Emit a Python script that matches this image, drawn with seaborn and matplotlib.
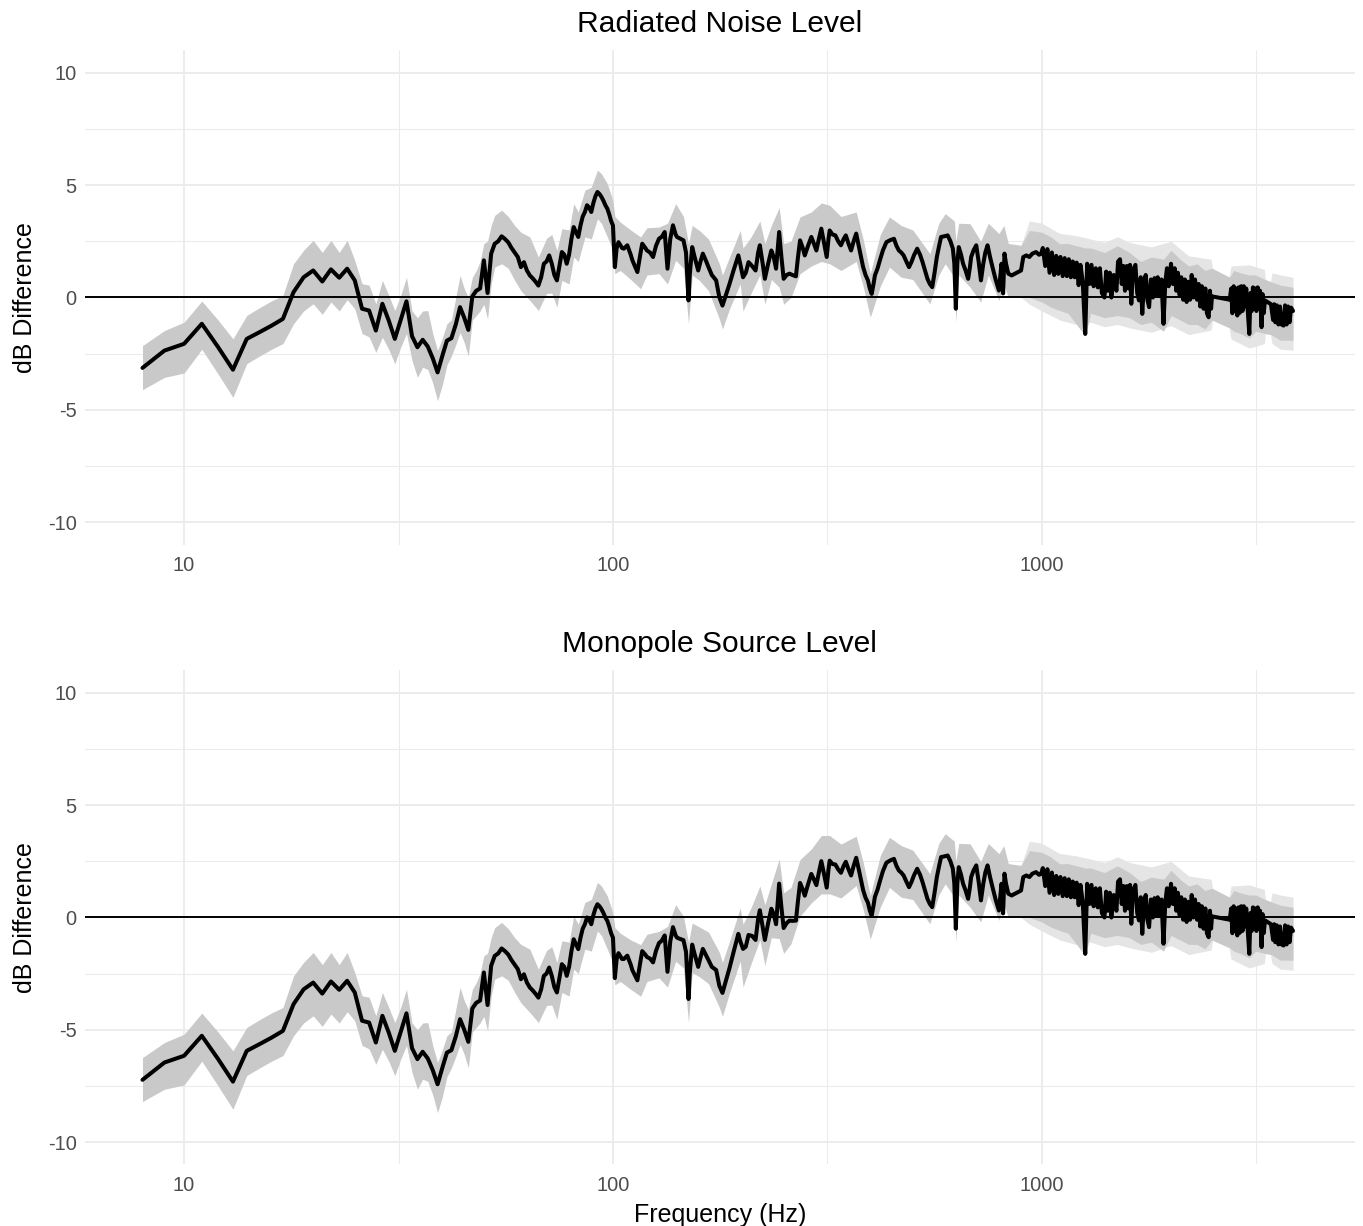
import numpy as np
import pandas as pd
import matplotlib
matplotlib.use("Agg")
import matplotlib.pyplot as plt
import seaborn as sns

# ---------------- data ----------------
# low/mid frequencies where the two panels differ
lf_freq = [8, 9, 10, 11, 12, 13, 14, 15, 16, 17,
           18, 19, 20, 21, 22, 23, 24, 25, 26, 27,
           28, 29, 30, 31, 32, 33, 34, 35, 36, 37,
           38, 39, 40, 41, 42, 43, 44, 45, 46, 47,
           48, 49, 50, 51, 52, 53, 54, 55, 56, 57,
           58, 59, 60, 61, 62, 63, 64, 65, 66, 67,
           68, 69, 70, 71, 72, 73, 74, 75, 76, 77,
           78, 79, 80, 81, 82, 83, 84, 85, 86, 87,
           88, 89, 90, 91, 92, 93, 94, 95, 96, 97,
           98, 99, 100,
           101, 102, 103, 105, 106, 108, 110, 111, 113, 114,
           116, 117, 119, 120, 122, 124, 126, 128, 130, 132,
           134, 136, 138, 140, 141, 144, 146, 148, 150, 151,
           153, 155, 158, 160, 162, 165, 167, 170, 174, 177,
           180, 184, 187, 191, 196, 198, 201, 204, 207, 211,
           215, 218, 220, 223, 226, 230, 234, 237, 240, 244,
           247, 250, 254, 258, 262, 267, 270, 273, 277, 280,
           285, 290, 294, 298, 302, 306, 310, 315, 318, 320,
           325, 330, 335, 340, 345, 349, 354, 359, 364, 369,
           376, 383, 388, 393, 397, 401, 405, 408, 414, 419,
           426, 434, 443]

rnl_lf_db = [-3.13, -2.36, -2.06, -1.17, -2.2, -3.21, -1.84, -1.54, -1.25, -0.95,
             0.24, 0.9, 1.2, 0.71, 1.25, 0.88, 1.28, 0.76, -0.5, -0.58,
             -1.47, -0.28, -1.02, -1.84, -1.0, -0.17, -1.72, -2.21, -1.88, -2.18,
             -2.7, -3.33, -2.6, -1.92, -1.81, -1.2, -0.43, -0.9, -1.44, 0.05,
             0.3, 0.4, 1.65, 0.2, 1.95, 2.39, 2.5, 2.72, 2.6, 2.45,
             2.2, 2.0, 1.8, 1.35, 1.57, 1.2, 0.98, 0.85, 0.7, 0.53,
             0.9, 1.5, 1.6, 1.87, 1.5, 1.0, 0.76, 1.4, 2.02, 1.9,
             1.5, 1.9, 2.6, 3.13, 2.9, 2.69, 3.2, 3.6, 3.8, 4.1,
             4.0, 3.8, 4.2, 4.5, 4.69, 4.6, 4.47, 4.3, 4.1, 3.95,
             3.7, 3.4, 3.2,
             1.35, 2.2, 2.46, 2.2, 2.17, 2.32, 1.9, 1.65, 1.3, 1.13,
             2.0, 2.39, 2.2, 2.09, 2.0, 1.8, 2.3, 2.61, 2.7, 2.91,
             1.28, 2.6, 3.21, 2.8, 2.69, 2.6, 2.54, 2.0, -0.13, 1.0,
             2.24, 1.8, 1.2, 1.6, 1.95, 1.6, 1.35, 1.0, 0.76, 0.01,
             -0.36, 0.2, 0.61, 1.2, 1.87, 1.5, 0.9, 1.1, 1.57, 1.4,
             1.2, 2.0, 2.32, 1.6, 0.83, 1.5, 2.09, 1.8, 1.28, 2.91,
             1.8, 0.83, 1.0, 1.06, 1.0, 0.94, 1.8, 2.54, 2.2, 1.87,
             2.3, 2.69, 2.4, 2.09, 2.6, 3.06, 2.5, 1.8, 2.6, 2.98,
             2.8, 2.76, 2.5, 2.32, 2.6, 2.76, 2.4, 2.09, 2.5, 2.84,
             2.1, 1.35, 1.0, 0.76, 0.4, 0.16, 0.6, 0.98, 1.3, 1.65,
             2.1, 2.46, 2.55]

msl_lf_db = [-7.23, -6.46, -6.16, -5.27, -6.3, -7.31, -5.94, -5.64, -5.35, -5.05,
             -3.86, -3.2, -2.9, -3.39, -2.85, -3.22, -2.82, -3.34, -4.6, -4.68,
             -5.57, -4.38, -5.12, -5.94, -5.1, -4.27, -5.82, -6.31, -5.98, -6.28,
             -6.8, -7.43, -6.7, -6.02, -5.91, -5.3, -4.53, -5.0, -5.54, -4.05,
             -3.8, -3.7, -2.45, -3.9, -2.15, -1.71, -1.6, -1.38, -1.5, -1.65,
             -1.9, -2.1, -2.3, -2.75, -2.53, -2.9, -3.12, -3.25, -3.4, -3.57,
             -3.2, -2.6, -2.5, -2.23, -2.6, -3.1, -3.34, -2.7, -2.08, -2.2,
             -2.6, -2.2, -1.5, -0.97, -1.2, -1.41, -0.9, -0.5, -0.3, 0.0,
             -0.1, -0.3, 0.1, 0.4, 0.59, 0.5, 0.37, 0.2, 0.0, -0.15,
             -0.4, -0.7, -0.9,
             -2.7, -1.85, -1.59, -1.85, -1.85, -1.7, -2.1, -2.35, -2.65, -2.8,
             -1.9, -1.5, -1.66, -1.76, -1.83, -2.0, -1.48, -1.14, -1.03, -0.8,
             -2.42, -1.07, -0.43, -0.8, -0.9, -0.97, -1.01, -1.53, -3.63, -2.49,
             -1.21, -1.63, -2.2, -1.78, -1.4, -1.7, -1.9, -2.2, -2.34, -3.04,
             -3.36, -2.72, -2.24, -1.55, -0.73, -1.05, -1.4, -1.3, -0.78, -0.82,
             -1.0, -0.05, 0.32, -0.33, -1.0, -0.25, 0.39, 0.15, -0.3, 1.51,
             0.45, -0.47, -0.25, -0.14, -0.15, -0.14, 0.75, 1.54, 1.25, 0.97,
             1.48, 1.94, 1.7, 1.44, 2.0, 2.51, 2.0, 1.33, 2.14, 2.53,
             2.38, 2.36, 2.14, 1.99, 2.3, 2.48, 2.15, 1.87, 2.3, 2.66,
             1.95, 1.22, 0.88, 0.66, 0.31, 0.08, 0.53, 0.92, 1.25, 1.61,
             2.07, 2.44, 2.54]

# higher frequencies: identical in both panels
hf_freq = [452, 458, 464, 470, 476, 483, 490, 497, 503, 512,
           520, 527, 534, 541, 548, 555, 562, 569, 576, 582,
           592, 603, 612, 620, 625, 630, 635, 640, 648, 655,
           664, 673, 679, 684, 693, 703, 712, 721, 730, 738,
           747, 757, 767, 780, 794, 805, 812, 818, 825, 835,
           850, 894, 905, 920, 935, 950, 969, 985, 996,
           1005, 1018, 1030, 1042, 1055, 1068, 1080, 1092, 1105, 1118,
           1130, 1143, 1155, 1168, 1180, 1192, 1205, 1218, 1230, 1245,
           1262, 1275, 1290, 1305, 1320, 1335, 1350, 1365, 1380, 1399,
           1412, 1425, 1440, 1452, 1470, 1492, 1505, 1521, 1535, 1550,
           1562, 1578, 1593, 1605, 1616, 1630, 1652, 1668, 1684, 1700,
           1714, 1730, 1746, 1762, 1778, 1795, 1815, 1830, 1846, 1862,
           1879, 1900, 1921, 1940, 1957, 1975, 2000, 2020, 2040, 2057,
           2075, 2095, 2113, 2135, 2155, 2175, 2195, 2215, 2235, 2255,
           2275, 2300, 2320, 2340, 2360, 2382, 2405, 2425, 2448, 2465,
           2480, 2492,
           2740, 2763, 2780, 2800, 2820, 2838, 2855, 2875, 2895, 2915,
           2935, 2956, 2975, 2995, 3020, 3045, 3065, 3085, 3105, 3125,
           3145, 3163, 3185, 3205, 3225, 3252, 3270, 3290, 3313,
           3420, 3460, 3480, 3500, 3530, 3560, 3590, 3620, 3660, 3690,
           3720, 3750, 3780, 3810, 3850]

hf_db = [2.61, 2.3, 2.09, 2.0, 1.87, 1.6, 1.35, 1.6, 1.87, 2.17,
         1.9, 1.57, 1.2, 0.83, 0.6, 0.46, 1.1, 1.8, 2.3, 2.69,
         2.72, 2.76, 2.5, 2.17, 1.5, -0.5, 1.5, 2.24, 1.9, 1.5,
         1.2, 0.83, 1.3, 1.8, 2.1, 2.32, 1.6, 0.76, 1.5, 2.0,
         2.32, 1.8, 1.35, 0.8, 0.31, 1.5, 0.18, 1.95, 1.5, 1.06,
         0.98, 1.2, 1.8, 1.87, 1.8, 1.95, 2.02, 1.9, 1.95,
         2.2, 1.4, 2.15, 1.1, 2.0, 1.0, 1.85, 1.05, 1.8, 0.95,
         1.75, 0.95, 1.7, 0.9, 1.6, 0.9, 1.55, 0.55, 1.45, 0.7,
         -1.62, 1.5, 0.6, 1.45, 0.5, 1.3, 0.45, 1.3, 0.2, 0.0,
         1.15, 0.3, 1.1, 0.0, 1.0, 0.3, 1.6, 1.7, 0.6, 1.4,
         0.3, 1.4, 0.4, 1.45, -0.28, 1.2, 1.45, 0.2, -0.13, 0.9,
         -0.73, 0.7, 1.0, -0.1, -0.43, 0.8, 0.0, 0.86, 0.1, 0.9,
         0.06, 0.8, -1.17, 0.7, 1.3, 0.5, 1.5, 0.6, 1.3, 0.3,
         1.1, 0.1, 0.9, -0.1, 0.8, -0.2, 0.7, -0.1, 1.0, 0.0,
         0.8, -0.1, 0.6, -0.4, 0.5, -0.5, 0.4, -0.7, -0.88, 0.3,
         -0.5, 0.05,
         -0.1, 0.4, -0.7, 0.5, -0.6, 0.4, -0.8, 0.45, -0.68, 0.5,
         -0.6, 0.5, -0.4, 0.4, -0.6, -1.62, 0.2, -0.6, 0.45, -0.5,
         0.4, -0.6, 0.45, -0.5, 0.3, -1.32, 0.15, -0.7, -0.13,
         -0.3, -1.0, -0.3, -1.1, -0.35, -1.2, -0.4, -1.2, -1.25, -0.35,
         -1.2, -0.4, -1.1, -0.45, -0.6]

# uncertainty band (own, coarser frequency grid)
band_lf_freq = [8, 9, 10, 11, 12, 13, 14, 15, 16, 17,
                18, 19, 20, 21, 22, 23, 24, 25, 26, 27,
                28, 29, 30, 31, 32, 33, 34, 35, 36, 37,
                38, 39, 40, 41, 42, 43, 44, 45, 46, 47,
                48, 49, 50, 51, 52, 53, 55, 57, 59, 61,
                64, 67, 70, 72, 74, 76, 79, 81, 83, 86,
                89, 92, 94, 97, 100, 101, 104, 110, 116, 120,
                128, 134, 140, 146, 150, 153, 159, 167, 177, 180,
                187, 198, 201, 210, 220, 226, 234, 244, 250, 260,
                273, 290, 306, 320, 340, 369, 383, 398, 420, 441]

rnl_band_lo = [-4.1, -3.55, -3.36, -2.3, -3.4, -4.44, -2.94, -2.6, -2.3, -2.05,
               -1.17, -0.6, -0.28, -0.75, -0.2, -0.6, -0.1, -0.5, -1.6, -1.75,
               -2.44, -1.77, -2.3, -2.95, -2.2, -1.6, -2.8, -3.55, -3.1, -3.2,
               -3.8, -4.59, -3.9, -3.0, -2.6, -2.1, -1.55, -2.0, -2.6, -1.0,
               -0.8, -0.6, -0.3, -0.95, 0.6, 1.35, 1.5, 1.3, 0.76, 0.3,
               -0.13, -0.58, 0.18, 0.2, -0.43, 0.76, 0.6, 1.8, 1.6, 2.69,
               2.6, 3.5, 3.3, 2.69, 2.09, 1.06, 1.2, 0.8, 0.39, 1.0,
               1.06, 0.6, 1.65, 1.3, -1.17, 1.0, 0.76, 0.3, -0.95, -1.4,
               -0.5, 0.61, -0.6, 0.2, 1.0, -0.3, 0.8, 0.46, -0.3, 0.0,
               1.06, 1.4, 1.6, 1.5, 1.2, 1.6, 0.5, -0.88, 0.5, 1.35]
rnl_band_hi = [-2.14, -1.47, -1.1, -0.16, -1.0, -1.84, -0.8, -0.45, -0.15, 0.09,
               1.5, 2.1, 2.54, 2.0, 2.54, 2.0, 2.54, 1.65, 0.61, 0.55,
               -0.28, 0.76, 0.1, -0.58, 0.1, 0.9, -0.6, -0.9, -0.6, -0.58,
               -1.6, -2.36, -1.8, -1.17, -1.0, 0.0, 0.98, 0.4, 0.0, 0.9,
               1.2, 1.6, 2.4, 2.5, 3.2, 3.65, 3.88, 3.6, 3.2, 2.9,
               2.69, 1.8, 2.63, 2.8, 2.09, 3.06, 3.0, 4.17, 3.8, 4.77,
               4.9, 5.66, 5.5, 5.06, 4.3, 3.6, 3.35, 3.0, 2.69, 3.1,
               3.13, 3.3, 4.17, 3.6, 2.39, 3.2, 2.98, 2.6, 1.5, 1.0,
               1.8, 2.98, 2.2, 2.7, 3.4, 2.4, 3.2, 4.0, 2.4, 2.5,
               3.58, 3.8, 4.2, 4.1, 3.6, 3.8, 2.6, 1.06, 2.8, 3.58]

msl_band_lo = [-8.2, -7.65, -7.46, -6.4, -7.5, -8.54, -7.04, -6.7, -6.4, -6.15,
               -5.27, -4.7, -4.38, -4.85, -4.3, -4.7, -4.2, -4.6, -5.7, -5.85,
               -6.54, -5.87, -6.4, -7.05, -6.3, -5.7, -6.9, -7.65, -7.2, -7.3,
               -7.9, -8.69, -8.0, -7.1, -6.7, -6.2, -5.65, -6.1, -6.7, -5.1,
               -4.9, -4.7, -4.4, -5.05, -3.5, -2.75, -2.6, -2.8, -3.34, -3.8,
               -4.23, -4.68, -3.92, -3.9, -4.53, -3.34, -3.5, -2.3, -2.5, -1.41,
               -1.5, -0.6, -0.8, -1.41, -2.01, -3.0, -2.85, -3.2, -3.51, -2.85,
               -2.69, -3.1, -1.95, -2.25, -4.67, -2.45, -2.64, -2.95, -4.0, -4.4,
               -3.35, -1.94, -3.1, -2.05, -1.0, -2.13, -0.9, -0.94, -1.6, -1.17,
               0.06, 0.65, 1.05, 1.05, 0.87, 1.42, 0.37, -0.96, 0.46, 1.34]
msl_band_hi = [-6.24, -5.57, -5.2, -4.26, -5.1, -5.94, -4.9, -4.55, -4.25, -4.01,
               -2.6, -2.0, -1.56, -2.1, -1.56, -2.1, -1.56, -2.45, -3.49, -3.55,
               -4.38, -3.34, -4.0, -4.68, -4.0, -3.2, -4.7, -5.0, -4.7, -4.68,
               -5.7, -6.46, -5.9, -5.27, -5.1, -4.1, -3.12, -3.7, -4.1, -3.2,
               -2.9, -2.5, -1.7, -1.6, -0.9, -0.45, -0.22, -0.5, -0.9, -1.2,
               -1.41, -2.3, -1.47, -1.3, -2.01, -1.04, -1.1, 0.07, -0.3, 0.67,
               0.8, 1.56, 1.4, 0.96, 0.2, -0.45, -0.7, -1.0, -1.21, -0.75,
               -0.62, -0.4, 0.57, 0.05, -1.11, -0.25, -0.42, -0.65, -1.55, -2.0,
               -1.05, 0.43, -0.3, 0.45, 1.4, 0.57, 1.5, 2.6, 1.1, 1.33,
               2.58, 3.05, 3.65, 3.65, 3.27, 3.62, 2.47, 0.98, 2.76, 3.57]

band_hf_freq = [470, 500, 548, 575, 595, 625, 630, 640, 680, 720,
                750, 794, 815, 835, 894, 935, 1000, 1050, 1100, 1150,
                1262, 1300, 1400, 1500, 1600, 1700, 1800, 1921, 2000, 2100,
                2200, 2300, 2400, 2490, 2740, 2800, 2900, 3045, 3150, 3313,
                3420, 3600, 3850]
band_hf_lo = [0.9, 0.8, -0.28, 1.0, 1.5, 0.9, -1.1, 1.0, 0.46, -0.2,
              1.0, -0.13, 0.6, 0.0, 0.0, 0.0, -0.2, -0.43, -0.58, -0.7,
              -1.7, -0.7, -0.9, -0.8, -0.9, -1.2, -1.1, -1.5, -0.8, -1.0,
              -1.2, -1.2, -1.4, -1.0, -1.35, -1.5, -1.6, -1.8, -1.5, -1.6,
              -1.65, -1.9, -1.9]
band_hf_hi = [3.2, 3.0, 1.95, 3.3, 3.73, 3.4, 2.5, 3.3, 3.28, 2.5,
              3.3, 2.84, 3.2, 2.4, 2.32, 2.98, 2.9, 2.69, 2.39, 2.4,
              2.2, 2.2, 2.0, 2.3, 2.0, 1.6, 1.8, 1.7, 2.1, 1.7,
              1.4, 1.5, 1.2, 1.3, 0.9, 1.2, 1.1, 1.0, 1.0, 0.8,
              0.7, 0.55, 0.45]

# faint outer envelope of the band (thin spikes) at high frequencies
halo_freq = [894, 935, 1000, 1100, 1200, 1300, 1400, 1500, 1600, 1800,
             2000, 2200, 2480, 2500, 2730, 2760, 3045, 3300, 3320, 3410,
             3440, 3600, 3850]
halo_lo = [0.0, -0.3, -0.6, -1.0, -1.2, -1.1, -1.3, -1.2, -1.35, -1.55,
           -1.25, -1.65, -1.45, -1.0, -1.35, -1.85, -2.25, -2.05, -1.6, -1.65,
           -2.05, -2.3, -2.35]
halo_hi = [2.32, 3.4, 3.3, 2.85, 2.75, 2.6, 2.45, 2.7, 2.45, 2.25,
           2.5, 1.85, 1.7, 1.3, 0.9, 1.4, 1.45, 1.25, 0.8, 0.7,
           1.1, 1.0, 0.9]

titles = ["Radiated Noise Level", "Monopole Source Level"]
x_ticks = [10, 100, 1000]
x_tick_labels = ["10", "100", "1000"]
y_ticks = [-10, -5, 0, 5, 10]
y_tick_labels = ["-10", "-5", "0", "5", "10"]

# ---------------- figure ----------------
sns.set_theme(style="white")
plt.rcParams['font.family'] = ['Liberation Sans', 'DejaVu Sans']

fig = plt.figure(figsize=(13.63, 12.26), dpi=100)
ax_top = fig.add_axes([0.0624, 0.5555, 0.9316, 0.4037])
ax_bot = fig.add_axes([0.0624, 0.0502, 0.9316, 0.4029])

GRID = "#EBEBEB"


def panel(ax, line_freq, line_db, b_freq, b_lo, b_hi, title, xlabel):
    ax.set_xscale("log")
    ax.fill_between(halo_freq, halo_lo, halo_hi, color="#e5e5e5", linewidth=0, zorder=1)
    ax.fill_between(b_freq, b_lo, b_hi, color="#c9c9c9", linewidth=0, zorder=1.1)
    ax.axhline(0, color="black", lw=1.4, zorder=2)
    df = pd.DataFrame({"freq": line_freq, "db": line_db})
    sns.lineplot(data=df, x="freq", y="db", ax=ax, color="black", lw=2.9,
                 estimator=None, sort=False, zorder=3)
    ax.set_xlim(5.877, 5365)
    ax.set_ylim(-11, 11)
    ax.set_xticks(x_ticks)
    ax.set_xticklabels(x_tick_labels)
    ax.set_xticks([10 ** 1.5, 10 ** 2.5, 10 ** 3.5], minor=True)
    ax.set_yticks(y_ticks)
    ax.set_yticklabels(y_tick_labels)
    ax.set_yticks([-7.5, -2.5, 2.5, 7.5], minor=True)
    ax.xaxis.set_minor_formatter(plt.NullFormatter())
    ax.grid(which="major", color=GRID, lw=1.3, zorder=0)
    ax.grid(which="minor", color=GRID, lw=0.75, zorder=0)
    ax.set_axisbelow(True)
    ax.tick_params(which="both", length=0, labelsize=14.4, labelcolor="#4D4D4D")
    ax.tick_params(axis="x", pad=8)
    ax.tick_params(axis="y", pad=6)
    for s in ax.spines.values():
        s.set_visible(False)
    ax.set_title(title, fontsize=21.6, color="black", pad=13)
    ax.set_ylabel("dB Difference", fontsize=18, color="black", labelpad=8)
    ax.set_xlabel(xlabel, fontsize=18, color="black", labelpad=6)


panel(ax_top, lf_freq + hf_freq, rnl_lf_db + hf_db,
      band_lf_freq + band_hf_freq, rnl_band_lo + band_hf_lo, rnl_band_hi + band_hf_hi,
      titles[0], "")
panel(ax_bot, lf_freq + hf_freq, msl_lf_db + hf_db,
      band_lf_freq + band_hf_freq, msl_band_lo + band_hf_lo, msl_band_hi + band_hf_hi,
      titles[1], "Frequency (Hz)")

fig.savefig("out.png", dpi=100, facecolor="white")
